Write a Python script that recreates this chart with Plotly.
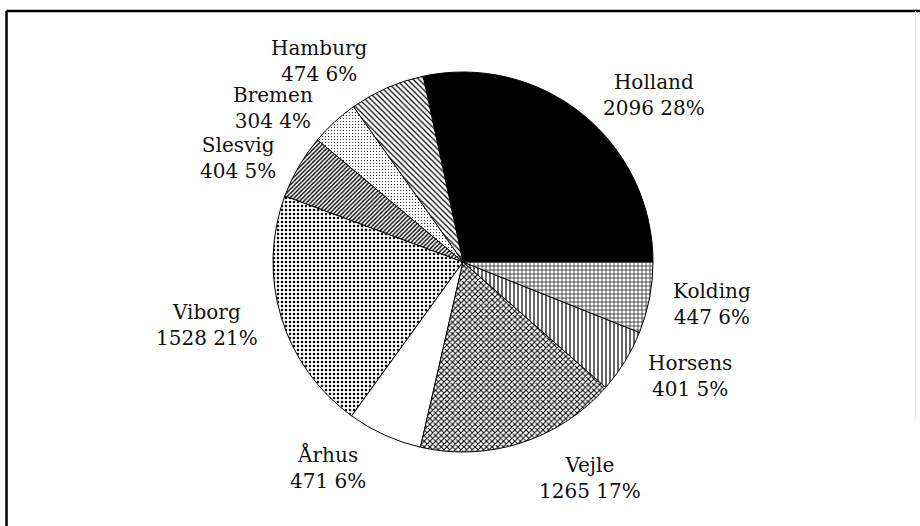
import math
import plotly.graph_objects as go

# Shipments by destination
places = ["Holland", "Hamburg", "Bremen", "Slesvig", "Viborg",
          "Århus", "Vejle", "Horsens", "Kolding"]
amounts = [2096, 474, 304, 404, 1528, 471, 1265, 401, 447]

# Black-and-white hatch fills, one per slice
fill_color = ["black", "white", "white", "white", "white",
              "white", "white", "white", "white"]
hatch_shape = ["", "\\", ".", "/", ".", "", "x", "|", "+"]
hatch_size = [4, 4, 3, 3, 4, 4, 4, 4, 4]
hatch_solid = [0.3, 0.3, 0.1, 0.45, 0.3, 0.3, 0.45, 0.3, 0.3]

W, H = 920, 526
cx, cy, rad = 463, 262, 190  # pie centre and radius in pixels
label_r = 1.05 * rad          # where each label's near corner sits
line_h = 25                   # height of one label line in pixels
min_sep = 47                  # closest two stacked labels may sit (centre to centre)
drop = 3                      # small downward nudge for all labels
font = dict(family="DejaVu Serif", size=20, color="#111")

# first slice begins at 3 o'clock and the slices run counterclockwise;
# in counterclockwise mode plotly's rotation marks the far edge of slice one
total = sum(amounts)
start_rot = 90 - 360 * amounts[0] / total

fig = go.Figure(go.Pie(
    labels=places,
    values=amounts,
    sort=False,
    direction="counterclockwise",
    rotation=start_rot,
    textinfo="none",
    marker=dict(
        colors=fill_color,
        line=dict(color="black", width=1),
        pattern=dict(shape=hatch_shape, size=hatch_size, solidity=hatch_solid,
                     fgcolor="black", bgcolor="white", fillmode="replace"),
    ),
    domain=dict(x=[(cx - rad) / W, (cx + rad) / W],
                y=[1 - (cy + rad) / H, 1 - (cy - rad) / H]),
    showlegend=False,
    hoverinfo="label+value+percent",
))

# Outside labels: name over "value pct%", hung off the slice's mid-angle
labels = []
acc = 0
for name, v in zip(places, amounts):
    mid = math.radians(360 * (acc + v / 2) / total)
    acc += v
    c, s = math.cos(mid), math.sin(mid)
    px = cx + label_r * c
    py = label_r * s                       # upward from centre
    x_edge = px + (line_h / 2) * (1 if c >= 0 else -1)
    y_mid = py + line_h * s * abs(s) - drop
    labels.append(dict(name=name, v=v, right=c >= 0, x=x_edge, y=y_mid))

# keep stacked labels on the same side from running into each other
for side in (True, False):
    group = sorted([l for l in labels if l["right"] == side],
                   key=lambda l: -l["y"])
    for upper, lower in zip(group, group[1:]):
        if upper["y"] - lower["y"] < min_sep:
            lower["y"] = upper["y"] - min_sep

for l in labels:
    fig.add_annotation(
        x=l["x"] / W, y=(H - cy + l["y"]) / H,
        xref="paper", yref="paper",
        xanchor="left" if l["right"] else "right", yanchor="middle",
        text=f"{l['name']}<br>{l['v']} {round(100 * l['v'] / total)}%",
        align="center", showarrow=False, font=font,
    )

# Frame around the chart (top and left edges, faint right edge)
fig.add_shape(type="line", xref="paper", yref="paper",
              x0=6.5 / W, x1=1.01, y0=1 - 11 / H, y1=1 - 11 / H,
              line=dict(color="black", width=2.5))
fig.add_shape(type="line", xref="paper", yref="paper",
              x0=6.5 / W, x1=6.5 / W, y0=1 - 11 / H, y1=-0.02,
              line=dict(color="black", width=2.5))
fig.add_shape(type="line", xref="paper", yref="paper",
              x0=915.5 / W, x1=915.5 / W, y0=1 - 11 / H, y1=0.2,
              line=dict(color="#e6e6e6", width=1))

fig.update_layout(
    width=W, height=H,
    margin=dict(l=0, r=0, t=0, b=0),
    paper_bgcolor="white",
    plot_bgcolor="white",
    showlegend=False,
)

fig.write_html("out.html")
